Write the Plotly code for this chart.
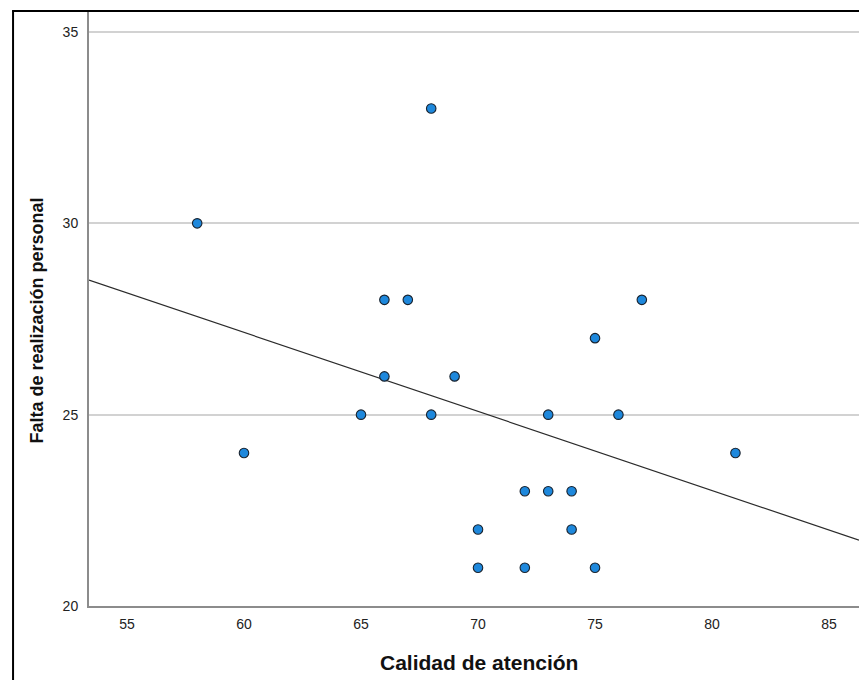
import numpy as np
import plotly.graph_objects as go

# Data
calidad = [58, 60, 65, 66, 66, 67, 68, 68, 69, 70, 70, 72, 72, 73, 73, 74, 74, 75, 75, 76, 77, 81]
falta = [30, 24, 25, 28, 26, 28, 33, 25, 26, 22, 21, 23, 21, 25, 23, 23, 22, 27, 21, 25, 28, 24]
x_ticks = [55, 60, 65, 70, 75, 80, 85]
y_ticks = [20, 25, 30, 35]
x_title = "Calidad de atención"
y_title = "Falta de realización personal"

W, H = 859, 680
L, R, T, B = 88.5, 0, 11, 74
x_range = [53.377, 86.28]
y_range = [20, 35.549]

slope, intercept = np.polyfit(calidad, falta, 1)
fit_x = np.array(x_range)
fit_y = slope * fit_x + intercept

fig = go.Figure()
fig.add_trace(go.Scatter(
    x=fit_x, y=fit_y, mode="lines",
    line=dict(color="#2b2b2b", width=1.2),
    hoverinfo="skip", showlegend=False, cliponaxis=True,
))
fig.add_trace(go.Scatter(
    x=calidad, y=falta, mode="markers",
    marker=dict(size=9.5, color="#1e88dc", line=dict(color="#18222e", width=1.1)),
    showlegend=False, cliponaxis=False,
))

pw = W - L - R
ph = H - T - B

def px_to_paper_x(px):
    return (px - L) / pw

def px_to_paper_y(py):
    return (H - B - py) / ph

font_family = "Liberation Sans, Arial, sans-serif"

fig.update_layout(
    width=W, height=H,
    margin=dict(l=L, r=R, t=T, b=B, pad=0),
    paper_bgcolor="white", plot_bgcolor="white",
    font=dict(family=font_family, color="#222222"),
    xaxis=dict(
        range=x_range, tickvals=x_ticks, ticktext=[str(v) for v in x_ticks],
        showgrid=False, zeroline=False,
        showline=True, linecolor="#8c8c8c", linewidth=2,
        ticks="", tickfont=dict(size=14, color="#222222"),
        ticklabelstandoff=4,
    ),
    yaxis=dict(
        range=y_range, tickvals=y_ticks, ticktext=[str(v) for v in y_ticks],
        showgrid=True, gridcolor="#d2d2d2", gridwidth=1.5, zeroline=False,
        showline=True, linecolor="#8c8c8c", linewidth=2,
        ticks="", tickfont=dict(size=14, color="#222222"),
        ticklabelstandoff=6,
    ),
    annotations=[
        dict(text=f"<b>{x_title}</b>", xref="paper", yref="paper",
             x=px_to_paper_x(479), y=px_to_paper_y(662),
             xanchor="center", yanchor="middle", showarrow=False,
             font=dict(size=21, color="#111111", family=font_family)),
        dict(text=f"<b>{y_title}</b>", xref="paper", yref="paper",
             x=px_to_paper_x(36), y=px_to_paper_y(321),
             xanchor="center", yanchor="middle", showarrow=False, textangle=-90,
             font=dict(size=18, color="#111111", family=font_family)),
    ],
    shapes=[
        dict(type="line", xref="paper", yref="paper",
             x0=px_to_paper_x(12.5), x1=px_to_paper_x(12.5),
             y0=px_to_paper_y(700), y1=px_to_paper_y(11),
             line=dict(color="#000000", width=2)),
        dict(type="line", xref="paper", yref="paper",
             x0=px_to_paper_x(11.5), x1=px_to_paper_x(880),
             y0=px_to_paper_y(11), y1=px_to_paper_y(11),
             line=dict(color="#000000", width=2)),
    ],
)

fig.write_html(
    "out.html",
    config={"displayModeBar": False},
    post_script="document.body.style.margin='0px';document.body.style.overflow='hidden';",
)
